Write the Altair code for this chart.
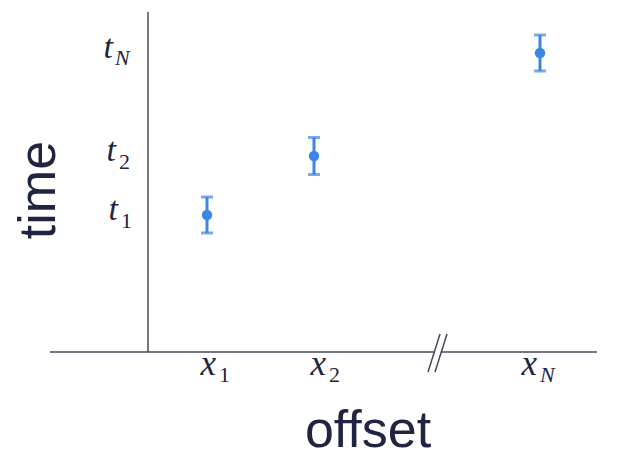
import altair as alt
import pandas as pd

# measured points (offset, time) with symmetric error
point_x = [5.9, 16.6, 39.2]
point_t = [13.7, 19.6, 29.9]
point_err = [1.8, 1.85, 1.8]

# tick labels: base letter + subscript, anchored where the letter ends
xtick_pos = [6.8, 17.8, 38.9]
xtick_sub = ["1", "2", "N"]
ytick_pos = [13.7, 19.6, 29.9]
ytick_anchor = [-3.0, -3.2, -3.5]
ytick_sub = ["1", "2", "N"]

# axis segments (horizontal axis is broken before x_N)
axis_x = [-9.8, 29.3, 0.0]
axis_x2 = [28.6, 44.9, 0.0]
axis_y = [0.0, 0.0, 0.0]
axis_y2 = [0.0, 0.0, 34.0]

# the "//" break marks
break_x = [28.0, 28.7]
break_x2 = [29.2, 29.9]
break_y = [-2.0, -2.0]
break_y2 = [1.8, 1.8]

BLUE = "#3b86e3"
INK = "#1f2540"
AXIS = "#464a5a"

pts = pd.DataFrame({"x": point_x, "t": point_t, "err": point_err})
pts["lo"] = pts["t"] - pts["err"]
pts["hi"] = pts["t"] + pts["err"]
xt = pd.DataFrame({"x": xtick_pos, "sub": xtick_sub, "y": 0.0, "base": "x"})
yt = pd.DataFrame({"t": ytick_pos, "sub": ytick_sub, "x": ytick_anchor, "base": "t"})
axes = pd.DataFrame({"x": axis_x, "x2": axis_x2, "y": axis_y, "y2": axis_y2})
brk = pd.DataFrame({"x": break_x, "x2": break_x2, "y": break_y, "y2": break_y2})

xs = alt.Scale(domain=[-14, 46.2], nice=False, zero=False)
ys = alt.Scale(domain=[-10.7, 34.4], nice=False, zero=False)


def X(field):
    return alt.X(field, type="quantitative", scale=xs, axis=None)


def Y(field):
    return alt.Y(field, type="quantitative", scale=ys, axis=None)


axis_lines = alt.Chart(axes).mark_rule(color=AXIS, strokeWidth=1.5).encode(
    x=X("x"), x2="x2", y=Y("y"), y2="y2"
)
break_lines = alt.Chart(brk).mark_rule(color=AXIS, strokeWidth=1.5).encode(
    x=X("x"), x2="x2", y=Y("y"), y2="y2"
)

bars = alt.Chart(pts).mark_rule(color=BLUE, strokeWidth=3).encode(
    x=X("x"), y=Y("lo"), y2="hi"
)
cap_lo = alt.Chart(pts).mark_tick(color=BLUE, orient="horizontal", size=12, thickness=3).encode(
    x=X("x"), y=Y("lo")
)
cap_hi = alt.Chart(pts).mark_tick(color=BLUE, orient="horizontal", size=12, thickness=3).encode(
    x=X("x"), y=Y("hi")
)
dots = alt.Chart(pts).mark_circle(color=BLUE, size=110, opacity=1).encode(
    x=X("x"), y=Y("t")
)

serif = "Liberation Serif"
x_base = alt.Chart(xt).mark_text(
    font=serif, fontSize=35, fontStyle="italic", color=INK, align="right", baseline="alphabetic", dy=23
).encode(x=X("x"), y=Y("y"), text="base")
x_sub_num = alt.Chart(xt).transform_filter(alt.datum.sub != "N").mark_text(
    font=serif, fontSize=22, color=INK, align="left", baseline="alphabetic", dx=3, dy=30
).encode(x=X("x"), y=Y("y"), text="sub")
x_sub_n = alt.Chart(xt).transform_filter(alt.datum.sub == "N").mark_text(
    font=serif, fontSize=22, fontStyle="italic", color=INK, align="left", baseline="alphabetic", dx=3, dy=30
).encode(x=X("x"), y=Y("y"), text="sub")

y_base = alt.Chart(yt).mark_text(
    font=serif, fontSize=34, fontStyle="italic", color=INK, align="right", baseline="alphabetic", dy=5
).encode(x=X("x"), y=Y("t"), text="base")
y_sub_num = alt.Chart(yt).transform_filter(alt.datum.sub != "N").mark_text(
    font=serif, fontSize=22, color=INK, align="left", baseline="alphabetic", dx=3, dy=13
).encode(x=X("x"), y=Y("t"), text="sub")
y_sub_n = alt.Chart(yt).transform_filter(alt.datum.sub == "N").mark_text(
    font=serif, fontSize=22, fontStyle="italic", color=INK, align="left", baseline="alphabetic", dx=2, dy=12
).encode(x=X("x"), y=Y("t"), text="sub")

time_title = alt.Chart(pd.DataFrame({"label": ["time"]})).mark_text(
    font="Liberation Sans", fontSize=52, color=INK, angle=270, align="center", baseline="alphabetic"
).encode(x=alt.value(47), y=alt.value(182), text="label")
offset_title = alt.Chart(pd.DataFrame({"label": ["offset"]})).mark_text(
    font="Liberation Sans", fontSize=52, color=INK, align="center", baseline="alphabetic"
).encode(x=alt.value(360), y=alt.value(439), text="label")

chart = alt.layer(
    axis_lines, break_lines, bars, cap_lo, cap_hi, dots,
    x_base, x_sub_num, x_sub_n, y_base, y_sub_num, y_sub_n,
    time_title, offset_title,
).properties(
    width=602, height=451, padding=0, autosize="none"
).configure_view(stroke=None)

chart.save("out.html", embed_options={"renderer": "svg", "actions": False})
